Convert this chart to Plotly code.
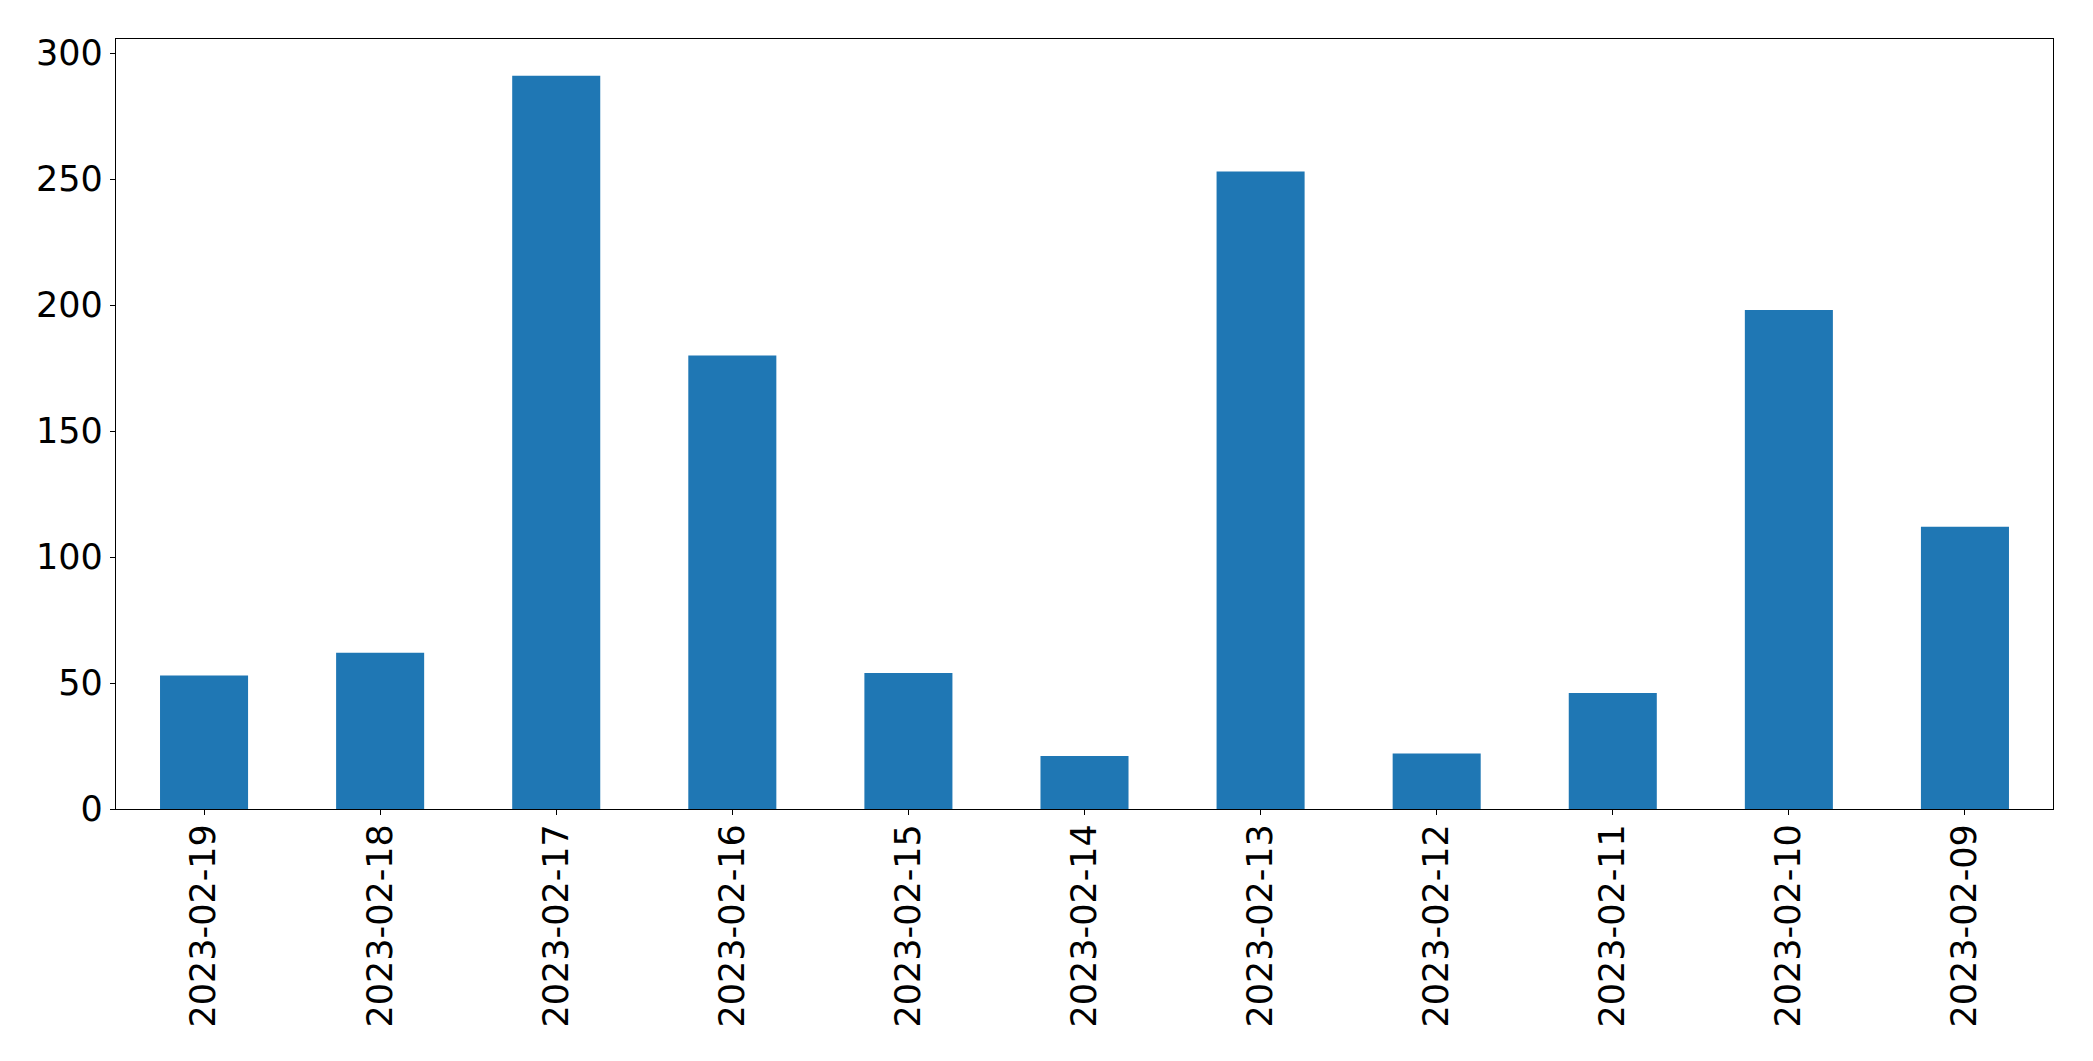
import plotly.graph_objects as go

dates = ["2023-02-19", "2023-02-18", "2023-02-17", "2023-02-16", "2023-02-15",
         "2023-02-14", "2023-02-13", "2023-02-12", "2023-02-11", "2023-02-10",
         "2023-02-09"]
counts = [53, 62, 291, 180, 54, 21, 253, 22, 46, 198, 112]
y_ticks = [0, 50, 100, 150, 200, 250, 300]

fig = go.Figure(
    go.Bar(
        x=dates,
        y=counts,
        width=0.5,
        marker=dict(color="#1f77b4", line=dict(width=0)),
    )
)

fig.update_layout(
    width=2093,
    height=1061,
    margin=dict(l=108, r=48, t=31, b=260),
    paper_bgcolor="white",
    plot_bgcolor="white",
    showlegend=False,
    font=dict(family="DejaVu Sans", size=35, color="black"),
)

fig.update_xaxes(
    type="category",
    range=[-0.5, 10.5],
    tickangle=-90,
    showline=True,
    linecolor="black",
    linewidth=1.3,
    mirror=True,
    ticks="outside",
    ticklen=5,
    tickwidth=1.3,
    tickcolor="black",
    showgrid=False,
    zeroline=False,
    ticklabelstandoff=-5,
)
fig.update_yaxes(
    range=[0, 305.6],
    tickvals=y_ticks,
    ticktext=[str(v) for v in y_ticks],
    showline=True,
    linecolor="black",
    linewidth=1.3,
    mirror=True,
    ticks="outside",
    ticklen=5,
    tickwidth=1.3,
    tickcolor="black",
    showgrid=False,
    zeroline=False,
    ticklabelstandoff=0,
)

fig.write_html("out.html")
